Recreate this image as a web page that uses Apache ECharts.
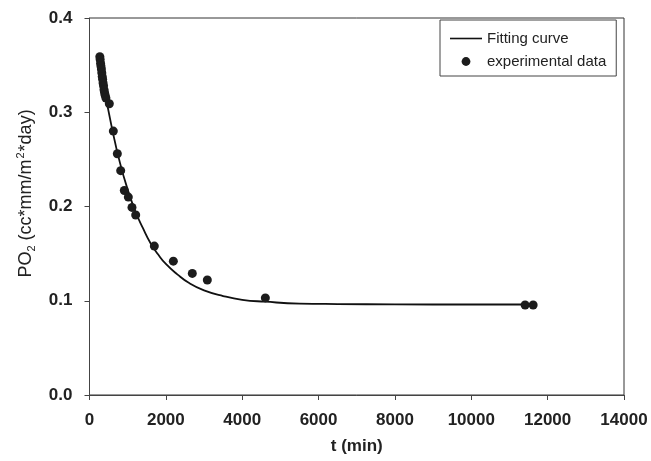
<!DOCTYPE html>
<html>
<head>
<meta charset="utf-8">
<script src="https://cdn.jsdelivr.net/npm/echarts@6/dist/echarts.min.js"></script>
<style>
  html, body { margin: 0; padding: 0; background: #fff; }
  #chart { width: 651px; height: 461px; }
</style>
</head>
<body>
<div id="chart"></div>
<script>
// Measured permeation: time (min) and PO2
const tExp = [270, 280, 290, 300, 311, 322, 333, 344, 356, 368, 380, 393, 410, 430, 519, 624, 729, 817, 912, 1017, 1113, 1210, 1698, 2196, 2693, 3086, 4606, 11410, 11620];
const yExp = [0.359, 0.356, 0.352, 0.349, 0.346, 0.342, 0.338, 0.335, 0.331, 0.328, 0.324, 0.321, 0.318, 0.315, 0.309, 0.280, 0.256, 0.238, 0.217, 0.210, 0.199, 0.191, 0.158, 0.142, 0.129, 0.122, 0.103, 0.0955, 0.0955];

// Fitted curve sampled along t
const tFit = [270, 400, 600, 800, 1000, 1200, 1400, 1600, 1800, 2000, 2300, 2600, 3000, 3500, 4000, 4600, 5500, 6500, 8000, 10000, 11650];
const yFit = [0.359, 0.323, 0.281, 0.246, 0.218, 0.195, 0.177, 0.161, 0.149, 0.139, 0.128, 0.119, 0.111, 0.105, 0.101, 0.099, 0.097, 0.0965, 0.0962, 0.096, 0.096];

const xTicks = [0, 2000, 4000, 6000, 8000, 10000, 12000, 14000];
const yTicks = [0.0, 0.1, 0.2, 0.3, 0.4];

const font = 'Arial, "Liberation Sans", sans-serif';
const ink = '#1c1c1c';
const textInk = '#222';

// Legend glyphs: extra move-to points fix the bounding box so the
// line and the dot keep their own sizes inside a 32x14 icon cell.
const lineIcon = 'path://M0,0 M32,14 M0,6.2 L32,6.2 L32,7.8 L0,7.8 Z';
const dotIcon = 'path://M0,0 M32,14 M11.6,7 A4.4,4.4 0 1,1 20.4,7 A4.4,4.4 0 1,1 11.6,7 Z';

const chart = echarts.init(document.getElementById('chart'), null, { renderer: 'canvas' });

chart.setOption({
  animation: false,
  backgroundColor: '#fff',
  grid: {
    left: 89.5, right: 27, top: 18, bottom: 66,
    show: true, borderColor: '#333', borderWidth: 1, backgroundColor: 'transparent'
  },
  legend: {
    orient: 'vertical',
    left: 440, top: 20,
    padding: [11, 10, 7, 10],
    itemWidth: 32, itemHeight: 14, itemGap: 8,
    borderColor: '#444', borderWidth: 1,
    textStyle: { fontFamily: font, fontSize: 15, color: textInk },
    data: [
      { name: 'Fitting curve', icon: lineIcon },
      { name: 'experimental data', icon: dotIcon, itemStyle: { color: ink } }
    ]
  },
  xAxis: {
    type: 'value',
    min: xTicks[0], max: xTicks[xTicks.length - 1], interval: 2000,
    name: 't (min)', nameLocation: 'middle', nameGap: 43,
    nameTextStyle: { fontFamily: font, fontSize: 17, fontWeight: 'bold', color: textInk },
    axisLine: { show: true, lineStyle: { color: '#444', width: 1 } },
    axisTick: { show: true, inside: false, length: 5, lineStyle: { color: '#444' } },
    axisLabel: {
      fontFamily: font, fontSize: 17, fontWeight: 'bold', color: textInk, margin: 17,
      formatter: v => String(v)
    },
    splitLine: { show: false }
  },
  yAxis: {
    type: 'value',
    min: yTicks[0], max: yTicks[yTicks.length - 1], interval: 0.1,
    name: '{b|PO}{sub|2}{b| (cc*mm/m}{sup|2}{b|*day)}',
    nameLocation: 'middle', nameGap: 44, nameRotate: 90,
    nameTextStyle: {
      padding: [0, 0, 0, 26],
      rich: {
        b: { fontFamily: font, fontSize: 18, color: textInk, lineHeight: 22 },
        sub: { fontFamily: font, fontSize: 11, color: textInk, padding: [12, 0, 0, 0] },
        sup: { fontFamily: font, fontSize: 11, color: textInk, padding: [0, 1, 10, 1] }
      }
    },
    axisLine: { show: true, lineStyle: { color: '#444', width: 1 } },
    axisTick: { show: true, inside: false, length: 5, lineStyle: { color: '#444' } },
    axisLabel: {
      fontFamily: font, fontSize: 17, fontWeight: 'bold', color: textInk, margin: 17,
      formatter: v => v.toFixed(1)
    },
    splitLine: { show: false }
  },
  series: [
    {
      name: 'Fitting curve',
      type: 'line',
      data: tFit.map((t, i) => [t, yFit[i]]),
      smooth: true,
      showSymbol: false,
      lineStyle: { color: '#111', width: 1.8 },
      itemStyle: { color: '#111' },
      z: 2
    },
    {
      name: 'experimental data',
      type: 'scatter',
      data: tExp.map((t, i) => [t, yExp[i]]),
      symbol: 'circle',
      symbolSize: 9,
      itemStyle: { color: ink, opacity: 1 },
      z: 3
    }
  ]
});
</script>
</body>
</html>
